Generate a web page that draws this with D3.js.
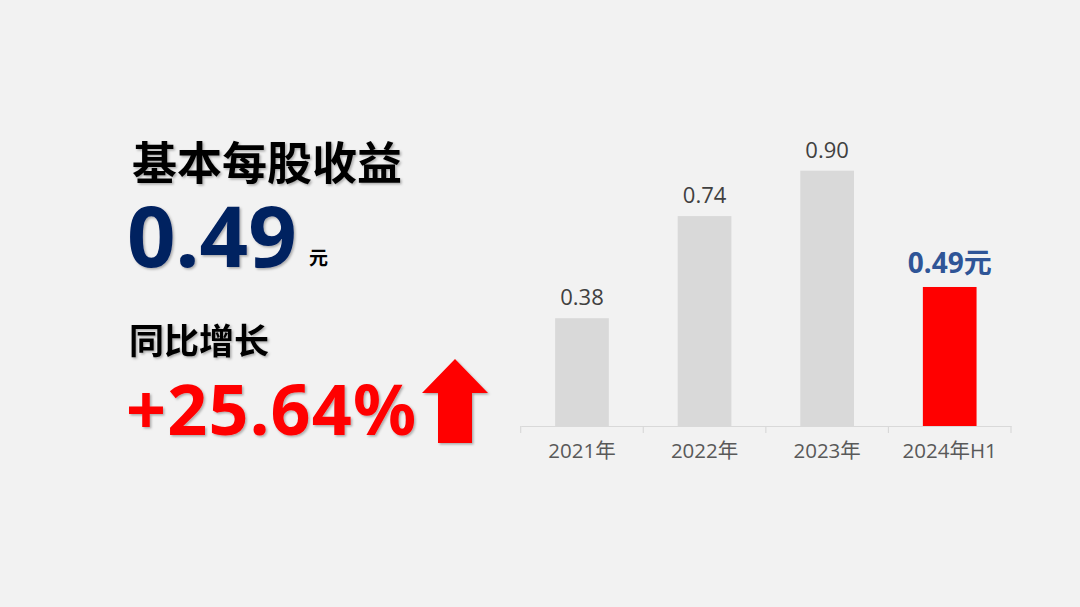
<!DOCTYPE html>
<html>
<head>
<meta charset="utf-8">
<script src="https://cdn.jsdelivr.net/npm/d3@7/dist/d3.min.js"></script>
<style>
  html, body { margin: 0; padding: 0; background: #f2f2f2; }
  svg { display: block; }
</style>
</head>
<body>
<svg id="chart" width="1080" height="607"></svg>
<script>
const categories = ["2021年", "2022年", "2023年", "2024年H1"];
const values = [0.38, 0.74, 0.90, 0.49];
const valueLabels = ["0.38", "0.74", "0.90", "0.49元"];
const highlightIndex = 3;

const titleText = "基本每股收益";
const bigValue = "0.49";
const unitText = "元";
const growthTitle = "同比增长";
const growthText = "+25.64%";

const W = 1080, H = 607;
const svg = d3.select("#chart");
const CJK = "'Noto Sans CJK SC', 'Noto Sans', sans-serif";
const LAT = "'Noto Sans', 'Open Sans', 'Noto Sans CJK SC', sans-serif";

svg.append("rect").attr("width", W).attr("height", H).attr("fill", "#f2f2f2");

const defs = svg.append("defs");
const f = defs.append("filter").attr("id", "shadow").attr("x", "-10%").attr("y", "-10%").attr("width", "130%").attr("height", "130%");
f.append("feDropShadow").attr("dx", 1.5).attr("dy", 1.5).attr("stdDeviation", 1.2)
  .attr("flood-color", "#000").attr("flood-opacity", 0.3);

// Left panel texts
svg.append("text").attr("x", 132).attr("y", 180)
  .attr("font-family", CJK).attr("font-weight", 700).attr("font-size", 45)
  .attr("fill", "#000").attr("filter", "url(#shadow)").text(titleText);

svg.append("text").attr("x", 127).attr("y", 267)
  .attr("font-family", LAT).attr("font-weight", 700).attr("font-size", 85)
  .attr("fill", "#002060").attr("filter", "url(#shadow)").text(bigValue);

svg.append("text").attr("x", 309).attr("y", 265)
  .attr("font-family", CJK).attr("font-weight", 700).attr("font-size", 19)
  .attr("fill", "#000").text(unitText);

svg.append("text").attr("x", 129).attr("y", 354)
  .attr("font-family", CJK).attr("font-weight", 700).attr("font-size", 35)
  .attr("fill", "#000").attr("filter", "url(#shadow)").text(growthTitle);

svg.append("text").attr("x", 126).attr("y", 435)
  .attr("font-family", LAT).attr("font-weight", 700).attr("font-size", 70)
  .attr("letter-spacing", 1.2)
  .attr("fill", "#ff0000").attr("filter", "url(#shadow)").text(growthText);

// Up arrow
svg.append("path")
  .attr("d", "M455,359 L488,393 L472,393 L472,443 L438,443 L438,393 L422,393 Z")
  .attr("fill", "#ff0000").attr("filter", "url(#shadow)");

// Chart
const x0 = 520.7, x1 = 1011, yBase = 426;
const pi = 0.562;
const x = d3.scaleBand().domain(categories).range([x0, x1]).paddingInner(pi).paddingOuter(pi / 2);
const y = d3.scaleLinear().domain([0, 1]).range([yBase, yBase - 283.7]);

const g = svg.append("g");

g.selectAll("rect.bar").data(values).join("rect")
  .attr("class", "bar")
  .attr("x", (d, i) => x(categories[i]))
  .attr("y", d => y(d))
  .attr("width", x.bandwidth())
  .attr("height", d => y(0) - y(d))
  .attr("fill", (d, i) => i === highlightIndex ? "#ff0000" : "#d9d9d9");

g.selectAll("text.vl").data(values).join("text")
  .attr("class", "vl")
  .attr("x", (d, i) => x(categories[i]) + x.bandwidth() / 2)
  .attr("y", (d, i) => y(d) - (i === highlightIndex ? 14 : 13))
  .attr("text-anchor", "middle")
  .attr("font-family", (d, i) => i === highlightIndex ? LAT : "'Open Sans', 'Noto Sans', sans-serif")
  .attr("font-weight", (d, i) => i === highlightIndex ? 700 : 400)
  .attr("font-size", (d, i) => i === highlightIndex ? 28 : 22)
  .attr("fill", (d, i) => i === highlightIndex ? "#2f5597" : "#404040")
  .text((d, i) => valueLabels[i]);

// Axis
const axis = d3.axisBottom(x).tickSize(0).tickPadding(0);
const ax = g.append("g").attr("transform", `translate(0,${yBase})`).call(axis);
ax.select(".domain").attr("stroke", "#d9d9d9").attr("stroke-width", 1.2);
ax.selectAll(".tick text")
  .attr("dy", null).attr("y", 32)
  .attr("font-family", "'Open Sans', 'Noto Sans CJK SC', sans-serif")
  .attr("font-size", 20.5).attr("fill", "#595959");

const step = x.step();
const bounds = categories.map(c => x(c) - (step - x.bandwidth()) / 2).concat([x1]);
g.selectAll("line.bt").data(bounds).join("line")
  .attr("class", "bt")
  .attr("x1", d => d).attr("x2", d => d)
  .attr("y1", yBase).attr("y2", yBase + 7)
  .attr("stroke", "#d9d9d9").attr("stroke-width", 1.2);
</script>
</body>
</html>
